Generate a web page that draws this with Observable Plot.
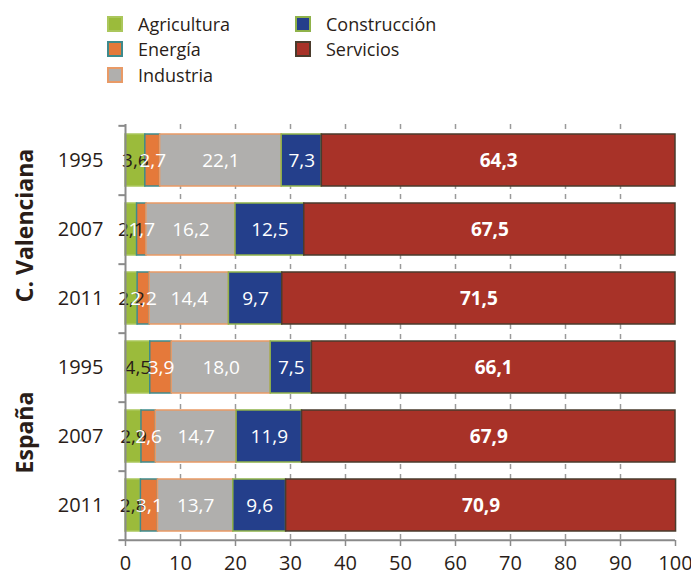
<!DOCTYPE html>
<html><head><meta charset="utf-8">
<script src="https://cdn.jsdelivr.net/npm/d3@7"></script>
<script src="https://cdn.jsdelivr.net/npm/@observablehq/plot@0.6"></script>
<style>
body{margin:0;background:#fff;font-family:"Open Sans",sans-serif;color:#2a1d18}
#legend{position:relative;height:100px;width:691px}
.item{position:absolute;display:flex;align-items:center;font-size:18px;height:22px;line-height:22px}
.sw{width:12px;height:12px;border:2px solid;margin-right:15px;box-sizing:content-box}
</style></head><body>
<div id="legend"></div><div id="chart"></div>
<script>
// ---- data ----
const sectors = ["Agricultura", "Energía", "Industria", "Construcción", "Servicios"];
const regions = ["C. Valenciana", "España"];
const years = ["1995", "2007", "2011"];
// values per row: CV 1995, CV 2007, CV 2011, España 1995, España 2007, España 2011
const agricultura  = [3.6, 2.1, 2.2, 4.5, 2.9, 2.8];
const energia      = [2.7, 1.7, 2.2, 3.9, 2.6, 3.1];
const industria    = [22.1, 16.2, 14.4, 18.0, 14.7, 13.7];
const construccion = [7.3, 12.5, 9.7, 7.5, 11.9, 9.6];
const servicios    = [64.3, 67.5, 71.5, 66.1, 67.9, 70.9];
const xTicks = [0, 10, 20, 30, 40, 50, 60, 70, 80, 90, 100];

// ---- styles ----
const fills   = ["#9bbb3b", "#e5793a", "#b0afad", "#243f8b", "#a83228"];
const strokes = ["#abc75c", "#3e8a8c", "#e99a66", "#8fb24a", "#4a3b2c"];
const dark = "#2a1d18";

const series = [agricultura, energia, industria, construccion, servicios];
const keys = regions.flatMap(r => years.map(y => `${r}|${y}`));
const data = keys.flatMap((k, i) => sectors.map((s, j) => ({key: k, sector: s, idx: j, value: series[j][i]})));
const fmt = v => d3.format(".1f")(v).replace(".", ",");

// legend
const legend = document.getElementById("legend");
const legendPos = [[107, 13], [107, 38], [107, 64], [295, 13], [295, 38]];
sectors.forEach((s, j) => {
  const it = document.createElement("div");
  it.className = "item";
  it.style.left = legendPos[j][0] + "px";
  it.style.top = legendPos[j][1] + "px";
  const sw = document.createElement("span");
  sw.className = "sw";
  sw.style.background = fills[j];
  sw.style.borderColor = strokes[j];
  it.appendChild(sw);
  it.appendChild(document.createTextNode(s));
  legend.appendChild(it);
});

const W = 691, H = 477, MT = 24, MB = 37, ML = 125, MR = 16;
const step = (H - MT - MB) / keys.length;

const chart = Plot.plot({
  width: W, height: H,
  marginTop: MT, marginBottom: MB, marginLeft: ML, marginRight: MR,
  style: {fontFamily: "Open Sans, sans-serif", fontSize: "20px", color: dark, background: "transparent"},
  x: {domain: [0, 100]},
  y: {domain: keys, paddingInner: 0.25, paddingOuter: 0.125},
  color: {type: "identity"},
  marks: [
    Plot.gridX(xTicks.filter(t => t > 0 && t < 100), {stroke: "#9a9a9a", strokeOpacity: 1, strokeWidth: 1.5, strokeDasharray: "5,5"}),
    Plot.barX(data, Plot.stackX({x: "value", y: "key", fill: d => fills[d.idx], stroke: d => strokes[d.idx], strokeWidth: 1.5})),
    Plot.text(data, Plot.stackX({x: "value", y: "key",
      text: d => d.sector === "Servicios" ? null : fmt(d.value),
      fill: d => d.idx === 0 ? dark : "#ffffff", fontSize: 19})),
    Plot.text(data, Plot.stackX({x: "value", y: "key",
      text: d => d.sector === "Servicios" ? fmt(d.value) : null,
      fill: "#ffffff", fontWeight: "bold", fontSize: 19})),
    // axis lines
    Plot.ruleX([0], {stroke: "#8a8a8a", strokeWidth: 2}),
    Plot.ruleY([keys[keys.length - 1]], {stroke: "#8a8a8a", strokeWidth: 2, dy: step / 2}),
    // y boundary ticks
    Plot.ruleY(keys, {x1: -1.2, x2: 0, stroke: "#8a8a8a", strokeWidth: 2, dy: step / 2}),
    Plot.ruleY([keys[0]], {x1: -1.2, x2: 0, stroke: "#8a8a8a", strokeWidth: 2, dy: -step / 2}),
    Plot.axisX(xTicks, {tickSize: 6, tickPadding: 9, stroke: "#8a8a8a", strokeWidth: 1.5, fill: dark, fontSize: 20, label: null}),
    Plot.axisY({tickSize: 0, tickPadding: 22, tickFormat: k => k.split("|")[1], fill: dark, fontSize: 20, label: null}),
    Plot.text(regions, {y: r => `${r}|${years[1]}`, text: r => r, frameAnchor: "left", textAnchor: "middle",
      dx: -100, dy: -4, rotate: -90, fontWeight: "bold", fontSize: 23, fill: dark})
  ]
});
document.getElementById("chart").appendChild(chart);
</script>
</body></html>
